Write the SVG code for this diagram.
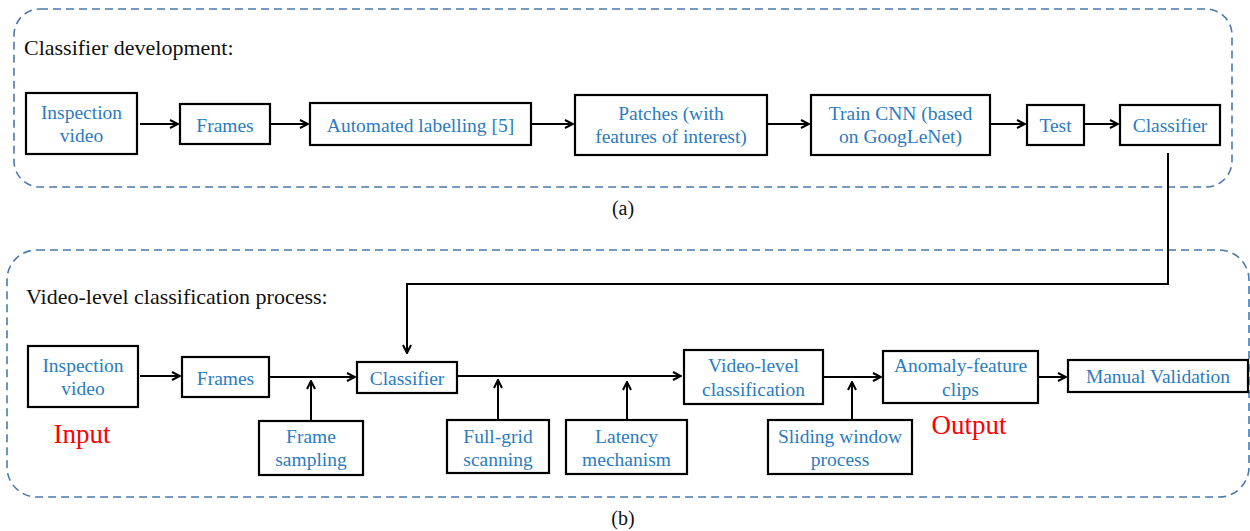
<svg xmlns="http://www.w3.org/2000/svg" width="1250" height="531" viewBox="0 0 1250 531">
<style>
.frame{fill:none;stroke:#4a7aab;stroke-width:1.6;stroke-dasharray:8 5}
.box{fill:#fff;stroke:#000;stroke-width:2.2}
.t{font-family:"Liberation Serif","Times New Roman",serif;font-size:19.5px;fill:#2b7bc2;text-anchor:middle}
.title{font-family:"Liberation Serif","Times New Roman",serif;font-size:22px;fill:#111}
.cap{font-family:"Liberation Serif","Times New Roman",serif;font-size:20px;fill:#111;text-anchor:middle}
.red{font-family:"Liberation Serif","Times New Roman",serif;font-size:27px;fill:#ff0000;text-anchor:middle}
.c{fill:none;stroke:#000;stroke-width:2;marker-end:url(#ah)}
</style>
<defs>
<marker id="ah" viewBox="0 0 10 10" refX="9" refY="5" markerWidth="10" markerHeight="10" markerUnits="userSpaceOnUse" orient="auto">
<path d="M1,1 L9,5 L1,9" fill="none" stroke="#000" stroke-width="2"/>
</marker>
</defs>
<rect width="1250" height="531" fill="#fff"/>
<rect class="frame" x="14" y="9" width="1218" height="178" rx="26"/>
<rect class="frame" x="7" y="250" width="1242" height="247" rx="30"/>
<text class="title" x="24" y="55">Classifier development:</text>
<text class="title" x="26" y="304">Video-level classification process:</text>
<text class="cap" x="623" y="215">(a)</text>
<text class="cap" x="623" y="525">(b)</text>
<text class="red" x="82" y="443">Input</text>
<text class="red" x="969" y="434">Output</text>
<g id="connectors">
<path class="c" d="M140,124 H178"/>
<path class="c" d="M270,124 H308"/>
<path class="c" d="M531,124 H573"/>
<path class="c" d="M767,124 H809"/>
<path class="c" d="M990,124 H1025"/>
<path class="c" d="M1084,124 H1118"/>
<path class="c" d="M1168,153 V284 H407 V353"/>
<path class="c" d="M140,376 H180"/>
<path class="c" d="M269,377 H355"/>
<path class="c" d="M311,420 V381"/>
<path class="c" d="M457,376 H681"/>
<path class="c" d="M498,419 V380"/>
<path class="c" d="M627,419 V382"/>
<path class="c" d="M824,377 H881"/>
<path class="c" d="M852,419 V382"/>
<path class="c" d="M1038,377 H1066"/>
</g>
<g id="a_inspection"><rect class="box" x="26" y="93" width="111" height="61"/><text class="t" x="81.5" y="119">Inspection</text><text class="t" x="81.5" y="142">video</text></g>
<g id="a_frames"><rect class="box" x="180" y="104" width="90" height="40"/><text class="t" x="225" y="132">Frames</text></g>
<g id="a_labelling"><rect class="box" x="310" y="103" width="221" height="42"/><text class="t" x="420.5" y="132">Automated labelling [5]</text></g>
<g id="a_patches"><rect class="box" x="575" y="95" width="192" height="60"/><text class="t" x="671" y="120">Patches (with</text><text class="t" x="671" y="143">features of interest)</text></g>
<g id="a_train"><rect class="box" x="811" y="95" width="179" height="60"/><text class="t" x="900.5" y="120">Train CNN (based</text><text class="t" x="900.5" y="143">on GoogLeNet)</text></g>
<g id="a_test"><rect class="box" x="1027" y="105" width="57" height="40"/><text class="t" x="1055.5" y="132">Test</text></g>
<g id="a_classifier"><rect class="box" x="1120" y="105" width="100" height="40"/><text class="t" x="1170" y="132">Classifier</text></g>
<g id="b_inspection"><rect class="box" x="28" y="346" width="110" height="61"/><text class="t" x="83" y="372">Inspection</text><text class="t" x="83" y="395">video</text></g>
<g id="b_frames"><rect class="box" x="182" y="357" width="87" height="40"/><text class="t" x="225.5" y="385">Frames</text></g>
<g id="b_classifier"><rect class="box" x="357" y="362" width="100" height="31"/><text class="t" x="407" y="385">Classifier</text></g>
<g id="b_sampling"><rect class="box" x="259" y="421" width="104" height="54"/><text class="t" x="311" y="443">Frame</text><text class="t" x="311" y="466">sampling</text></g>
<g id="b_fullgrid"><rect class="box" x="447" y="420" width="102" height="53"/><text class="t" x="498" y="443">Full-grid</text><text class="t" x="498" y="466">scanning</text></g>
<g id="b_latency"><rect class="box" x="566" y="420" width="121" height="54"/><text class="t" x="626.5" y="443">Latency</text><text class="t" x="626.5" y="466">mechanism</text></g>
<g id="b_videolevel"><rect class="box" x="684" y="350" width="139" height="54"/><text class="t" x="753.5" y="372">Video-level</text><text class="t" x="753.5" y="396">classification</text></g>
<g id="b_sliding"><rect class="box" x="768" y="420" width="144" height="54"/><text class="t" x="840" y="443">Sliding window</text><text class="t" x="840" y="466">process</text></g>
<g id="b_anomaly"><rect class="box" x="883" y="351" width="155" height="52"/><text class="t" x="960.5" y="372">Anomaly-feature</text><text class="t" x="960.5" y="396">clips</text></g>
<g id="b_manual"><rect class="box" x="1068" y="360" width="180" height="32"/><text class="t" x="1158" y="383">Manual Validation</text></g>
</svg>
